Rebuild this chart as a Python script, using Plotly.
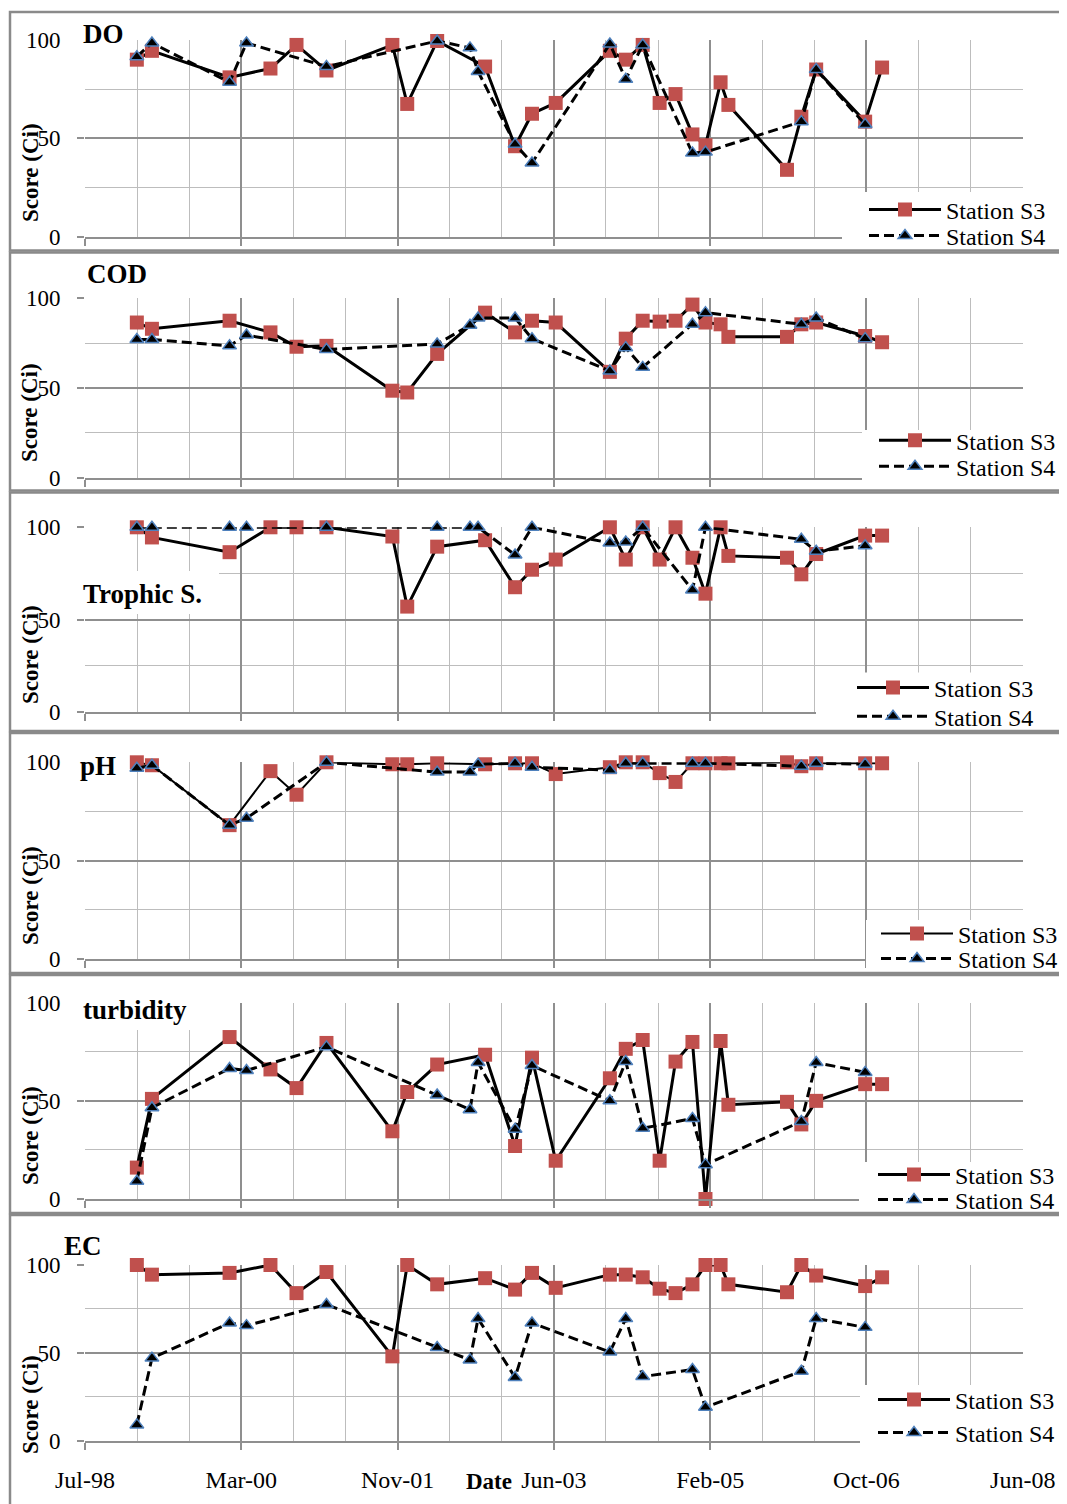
import plotly.graph_objects as go

W, H = 1067, 1504
DAY = 86400000
OFF = 8  # page body margin in the browser

# ---------------- data ----------------
dates_s3 = ["1999-02-08", "1999-04-07", "2000-01-30", "2000-07-05", "2000-10-13", "2001-02-05",
            "2001-10-16", "2001-12-12", "2002-04-06", "2002-10-07", "2003-01-30", "2003-04-05",
            "2003-07-05", "2004-01-29", "2004-03-30", "2004-06-03", "2004-08-07", "2004-10-07",
            "2004-12-11", "2005-01-30", "2005-03-29", "2005-04-28", "2005-12-09", "2006-02-02",
            "2006-03-31", "2006-10-05", "2006-12-09"]
dates_s4 = ["1999-02-08", "1999-04-07", "2000-01-30", "2000-04-04", "2001-02-05", "2002-04-06",
            "2002-08-10", "2002-09-10", "2003-01-30", "2003-04-05", "2004-01-29", "2004-03-30",
            "2004-06-03", "2004-12-11", "2005-01-30", "2006-02-02", "2006-03-31", "2006-10-05"]

parameters = ["DO", "COD", "Trophic S.", "pH", "turbidity", "EC"]
series_names = ["Station S3", "Station S4"]

do_s3 = [90, 94.5, 81, 85.5, 97.5, 84.5, 97.5, 67.5, 99.5, 86.5, 46, 62.5, 68, 94.5, 90, 97.5,
         68, 72.5, 52, 46.5, 78.5, 67, 34, 61, 85, 58.5, 86]
do_s4 = [91.5, 98.5, 78.5, 98.5, 86.5, 99.5, 96, 84, 47, 37.5, 98, 80, 97.5, 42.5, 43, 58.5, 85, 57]

cod_s3 = [86.5, 83, 87.5, 81, 73, 73.5, 48.5, 47.5, 69, 92, 81, 87.5, 86.5, 59, 77.5, 87.5,
          87, 87.5, 96.5, 86.5, 85.5, 78.5, 78.5, 85.5, 86.5, 79, 75.5]
cod_s4 = [77, 77, 73.5, 79.5, 71.5, 74.5, 85, 89, 89, 77.5, 59.5, 72.5, 61.5, 85.5, 92, 85.5, 89, 77.5]

tro_s3 = [100, 94.5, 86.5, 100, 100, 100, 95, 57, 89.5, 93, 67.5, 77, 82.5, 100, 82.5, 100,
          82.5, 100, 83.5, 64, 100, 84.5, 83.5, 74.5, 85.5, 95.5, 95.5]
tro_s4 = [100, 100, 100, 100, 100, 100, 100, 100, 85, 100, 91.5, 92, 100, 66, 100, 93.5, 87, 90]

ph_s3 = [100, 98.5, 68, 95.5, 83.5, 100, 99, 99, 99.5, 99, 99.5, 99.5, 94, 97.5, 100, 100,
         94.5, 90, 99.5, 99.5, 99.5, 99.5, 100, 98, 99.5, 99.5, 99.5]
ph_s4 = [97, 98.5, 68, 71.5, 100, 95, 95, 99, 99.5, 97.5, 96, 99.5, 99.5, 99.5, 99.5, 98, 99.5, 99]

tur_s3 = [16, 51, 82.5, 66, 56.5, 79.5, 34.5, 54.5, 68.5, 73.5, 27, 72, 19.5, 61.5, 76.5, 81,
          19.5, 70, 80, 0, 80.5, 48, 49.5, 38, 50, 58.5, 58.5]
tur_s4 = [9, 46.5, 66.5, 65.5, 77.5, 53, 45.5, 69.5, 35.5, 68, 50, 70, 36, 41, 17.5, 39.5, 69.5, 64.5]

ec_s3 = [100, 94.5, 95.5, 100, 84, 96, 48, 100, 89, 92.5, 86, 95.5, 87, 94.5, 94.5, 93,
         86.5, 84, 89, 100, 100, 89, 84.5, 100, 94, 88, 93]
ec_s4 = [9, 47, 67, 65.5, 77.5, 53, 46, 69.5, 36, 67, 50.5, 69.5, 36.5, 40.5, 19, 39.5, 69.5, 64.5]

values_s3 = [do_s3, cod_s3, tro_s3, ph_s3, tur_s3, ec_s3]
values_s4 = [do_s4, cod_s4, tro_s4, ph_s4, tur_s4, ec_s4]

y_ticks = [0, 50, 100]
x_start, x_end = "1998-07-24", "2008-06-02"

# ---------------- layout (pixel positions in the photographed window) ----------------
panels = [
    dict(top=40, bot=236.7, border=(12, 250.5), title=(81, 34), ytitle=173,
         rows=(210, 236), text_x=946, leg_rect=(842, 192), title_rect=(76, 22, 132, 47)),
    dict(top=298.3, bot=477.7, border=(252.5, 490.5), title=(85, 274), ytitle=413,
         rows=(440.7, 466.7), text_x=956, leg_rect=(862, 430), title_rect=None),
    dict(top=527.3, bot=711.7, border=(492.5, 731), title=(81, 594), ytitle=655,
         rows=(688, 716.7), text_x=934, leg_rect=(816, 672.5), title_rect=(77, 571, 219, 614)),
    dict(top=762.3, bot=958.7, border=(733, 973), title=(78, 766), ytitle=896,
         rows=(934, 959), text_x=958, leg_rect=(866, 920), title_rect=(76, 752, 117, 784)),
    dict(top=1002.7, bot=1199, border=(975, 1213), title=(81, 1010), ytitle=1136,
         rows=(1175, 1200), text_x=955, leg_rect=(859, 1162), title_rect=(76, 992, 203, 1030)),
    dict(top=1265, bot=1440.7, border=(1215, 1520), title=(62, 1246), ytitle=1405,
         rows=(1400, 1433), text_x=955, leg_rect=(860, 1385), title_rect=None, leg_bottom=1452),
]

MAJ = "#8f8f8f"
MINC = "#bdbdbd"
BORDER = "#8a8a8a"
RED = "#C0504D"
BLUE = "#4F81BD"
FONT = "Liberation Serif"

def px(x):
    return (x - OFF) / W

def py(y):
    return 1 - (y - OFF) / H

fig = go.Figure()
layout = dict(width=W, height=H, margin=dict(l=0, r=0, t=0, b=0, pad=0, autoexpand=False),
              paper_bgcolor="white", plot_bgcolor="white",
              font=dict(family=FONT, color="black"), showlegend=True)
shapes = []
annotations = []

ITEMW = 72
for i, p in enumerate(panels, start=1):
    xa = "x" if i == 1 else f"x{i}"
    ya = "y" if i == 1 else f"y{i}"
    lg1 = "legend" if i == 1 else f"legend{2 * i - 1}"
    lg2 = f"legend{2 * i}"
    s3_width = 2 if parameters[i - 1] == "pH" else 3
    fig.add_trace(go.Scatter(
        x=dates_s3, y=values_s3[i - 1], name=series_names[0], mode="lines+markers",
        xaxis=xa, yaxis=ya, legend=lg1, cliponaxis=False,
        line=dict(color="black", width=s3_width),
        marker=dict(symbol="square", size=14, color=RED, line=dict(width=0))))
    fig.add_trace(go.Scatter(
        x=dates_s4, y=values_s4[i - 1], name=series_names[1], mode="lines+markers",
        xaxis=xa, yaxis=ya, legend=lg2, cliponaxis=False,
        line=dict(color="black", width=3, dash="10px,5px"),
        marker=dict(symbol="triangle-up", size=12, color="black", line=dict(color=BLUE, width=1.5))))

    xkey = "xaxis" if i == 1 else f"xaxis{i}"
    ykey = "yaxis" if i == 1 else f"yaxis{i}"
    layout[xkey] = dict(
        domain=[px(85), px(1023)], anchor=ya, type="date", range=[x_start, x_end],
        tick0=x_start, dtick=600 * DAY, tickformat="%b-%y",
        showgrid=True, gridcolor=MAJ, gridwidth=2,
        ticks="outside", ticklen=7, tickwidth=2, tickcolor=MAJ,
        showline=True, linecolor=MAJ, linewidth=2, zeroline=False, automargin=False,
        showticklabels=(i == 6), tickfont=dict(size=24, color="black", family=FONT),
        ticklabelstandoff=9,
        minor=dict(dtick=200 * DAY, tick0=x_start, showgrid=True, gridcolor=MINC, gridwidth=1, ticks=""),
        fixedrange=True)
    layout[ykey] = dict(
        domain=[py(p["bot"]), py(p["top"])], anchor=xa, range=[0, 100],
        tickmode="array", tickvals=y_ticks, ticktext=[str(v) for v in y_ticks],
        showgrid=True, gridcolor=MAJ, gridwidth=2,
        ticks="outside", ticklen=7, tickwidth=2, tickcolor=MAJ,
        zeroline=False, showline=False, automargin=False,
        tickfont=dict(size=23, color="black", family=FONT), ticklabelstandoff=12,
        minor=dict(tickmode="array", tickvals=[25, 75], showgrid=True, gridcolor=MINC, gridwidth=1, ticks=""),
        fixedrange=True)

    # legend cover
    lx, ly = p["leg_rect"]
    lb = p.get("leg_bottom", p["border"][1] - 1.5)
    shapes.append(dict(type="rect", xref="paper", yref="paper", layer="above",
                       x0=px(lx), x1=px(1080), y0=py(lb), y1=py(ly),
                       fillcolor="white", line=dict(width=0)))
    if p["title_rect"]:
        tx0, ty0, tx1, ty1 = p["title_rect"]
        shapes.append(dict(type="rect", xref="paper", yref="paper", layer="above",
                           x0=px(tx0), x1=px(tx1), y0=py(ty1), y1=py(ty0),
                           fillcolor="white", line=dict(width=0)))

    # legends (one per entry so the rows can be placed freely)
    for lg, row in ((lg1, p["rows"][0]), (lg2, p["rows"][1])):
        layout[lg] = dict(x=px(p["text_x"] - ITEMW - 10), y=py(row), xanchor="left", yanchor="middle",
                          bgcolor="rgba(0,0,0,0)", borderwidth=0, itemwidth=ITEMW,
                          font=dict(size=24, color="black", family=FONT),
                          itemclick=False, itemdoubleclick=False)

    # titles
    tx, ty = p["title"]
    annotations.append(dict(text=parameters[i - 1], xref="paper", yref="paper",
                            x=px(tx), y=py(ty), xanchor="left", yanchor="middle", showarrow=False,
                            font=dict(size=27, family=FONT, color="black", weight="bold")))
    annotations.append(dict(text="Score (Ci)", xref="paper", yref="paper", textangle=-90,
                            x=px(30), y=py(p["ytitle"]), xanchor="center", yanchor="middle",
                            showarrow=False,
                            font=dict(size=23, family=FONT, color="black", weight="bold")))

# panel borders
for p in panels:
    b0, b1 = p["border"]
    shapes.append(dict(type="rect", xref="paper", yref="paper", layer="above",
                       x0=px(10), x1=px(1090), y0=py(b1), y1=py(b0),
                       fillcolor="rgba(0,0,0,0)", line=dict(color=BORDER, width=2.5)))

annotations.append(dict(text="Date", xref="paper", yref="paper", x=px(489), y=py(1481),
                        xanchor="center", yanchor="middle", showarrow=False,
                        font=dict(size=23, family=FONT, color="black", weight="bold")))

layout["shapes"] = shapes
layout["annotations"] = annotations
fig.update_layout(**layout)
fig.write_html("out.html")
